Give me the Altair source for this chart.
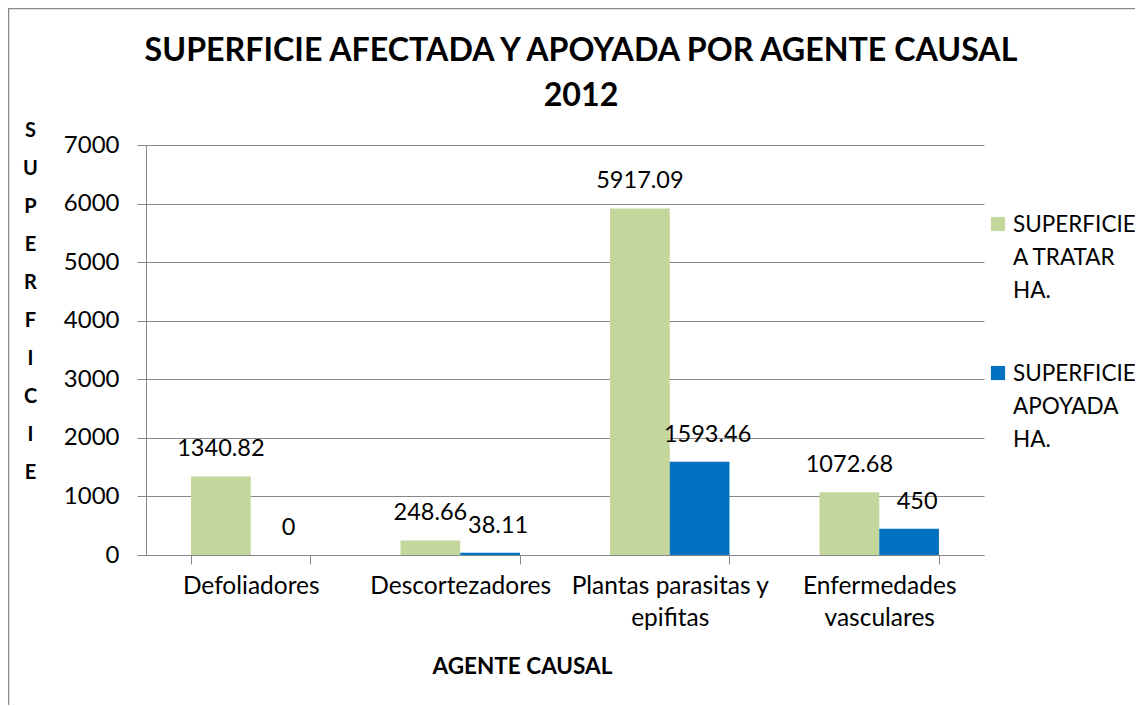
import altair as alt
import pandas as pd

title_lines = ["SUPERFICIE AFECTADA Y APOYADA POR AGENTE CAUSAL", "2012"]
categories = ["Defoliadores", "Descortezadores", "Plantas parasitas y epifitas", "Enfermedades vasculares"]
series = ["SUPERFICIE A TRATAR HA.", "SUPERFICIE APOYADA HA."]
legend_lines = [["SUPERFICIE", "A TRATAR", "HA."], ["SUPERFICIE", "APOYADA", "HA."]]
tratar = [1340.82, 248.66, 5917.09, 1072.68]
apoyada = [0, 38.11, 1593.46, 450]
y_ticks = [0, 1000, 2000, 3000, 4000, 5000, 6000, 7000]
colors = ["#c3d69b", "#0070c0"]
y_title_letters = list("SUPERFICIE")

rows = []
for c, t, a in zip(categories, tratar, apoyada):
    rows.append({"cat": c, "serie": series[0], "valor": t})
    rows.append({"cat": c, "serie": series[1], "valor": a})
df = pd.DataFrame(rows)

FONT = "Lato"
GRAY = "#898989"

x_label_expr = (
    "datum.label == 'Plantas parasitas y epifitas' ? ['Plantas parasitas y', 'epifitas'] : "
    "datum.label == 'Enfermedades vasculares' ? ['Enfermedades', 'vasculares'] : datum.label"
)

base = alt.Chart(df).encode(
    x=alt.X(
        "cat:N",
        sort=categories,
        scale=alt.Scale(paddingInner=0.43, paddingOuter=0.215),
        axis=alt.Axis(
            title="AGENTE CAUSAL",
            labelAngle=0,
            labelExpr=x_label_expr,
            labelFontSize=24.5,
            labelLineHeight=32,
            labelPadding=10,
            labelLimit=400,
            labelColor="#000000",
            labelFont=FONT,
            tickBand="extent",
            tickSize=9,
            tickColor=GRAY,
            domainColor=GRAY,
            titleFont=FONT,
            titleFontSize=22.5,
            titleFontWeight="bold",
            titleColor="#000000",
            titleX=376,
            titleY=100,
            titleAnchor="middle",
            titleAlign="center",
        ),
    ),
    xOffset=alt.XOffset("serie:N", sort=series),
    y=alt.Y(
        "valor:Q",
        scale=alt.Scale(domain=[0, 7000], nice=False),
        axis=alt.Axis(
            values=y_ticks,
            format="d",
            title=y_title_letters,
            titleAngle=0,
            titleAlign="center",
            titleBaseline="top",
            titleX=-116,
            titleY=-25,
            titleLineHeight=38,
            titleFont=FONT,
            titleFontSize=20,
            titleFontWeight="bold",
            titleColor="#000000",
            labelFont=FONT,
            labelFontSize=24,
            labelColor="#000000",
            labelPadding=18,
            tickSize=9,
            tickColor=GRAY,
            domainColor=GRAY,
            gridColor=GRAY,
            grid=True,
        ),
    ),
)

bars = base.mark_bar().encode(
    color=alt.Color(
        "serie:N",
        sort=series,
        scale=alt.Scale(domain=series, range=colors),
        legend=None,
    )
)

labels_green = base.transform_filter(alt.datum.serie == series[0]).mark_text(
    dy=-27, font=FONT, fontSize=23.5, color="#000000"
).encode(text=alt.Text("valor:Q", format=".6~g"))

labels_blue = base.transform_filter(alt.datum.serie == series[1]).mark_text(
    dy=-27, dx=8, font=FONT, fontSize=23.5, color="#000000"
).encode(text=alt.Text("valor:Q", format=".6~g"))

dummy = pd.DataFrame({"k": [0]})

# chart title (two lines)
title_mark = alt.Chart(dummy).mark_text(
    font=FONT, fontSize=32.2, fontWeight="bold", lineHeight=44.5,
    align="center", baseline="alphabetic", color="#000000"
).encode(x=alt.value(435), y=alt.value(-84), text=alt.value(title_lines))

# legend drawn as marks (square + multi-line text per series)
legend_layers = []
legend_y = [79, 228]
for i in range(len(series)):
    sq = alt.Chart(dummy).mark_square(size=200, color=colors[i], opacity=1).encode(
        x=alt.value(852), y=alt.value(legend_y[i])
    )
    tx = alt.Chart(dummy).mark_text(
        font=FONT, fontSize=22.5, lineHeight=33, align="left", baseline="alphabetic", color="#000000"
    ).encode(
        x=alt.value(867), y=alt.value(legend_y[i] + 8), text=alt.value(legend_lines[i])
    )
    legend_layers += [sq, tx]

# outer chart frame
frame_left = alt.Chart(dummy).mark_rule(color=GRAY, strokeWidth=1.5).encode(
    x=alt.value(-137.5), y=alt.value(-137), y2=alt.value(562)
)
frame_top = alt.Chart(dummy).mark_rule(color=GRAY, strokeWidth=1.5).encode(
    y=alt.value(-136.5), x=alt.value(-138), x2=alt.value(1000)
)

chart = (
    alt.layer(frame_left, frame_top, bars, labels_green, labels_blue, title_mark, *legend_layers)
    .properties(
        width=838,
        height=410,
        autosize=alt.AutoSizeParams(type="none"),
        padding={"left": 138, "top": 137, "right": 151, "bottom": 150},
    )
    .configure_view(stroke=None)
)

chart.save("out.html", embed_options={"renderer": "svg", "actions": False})
